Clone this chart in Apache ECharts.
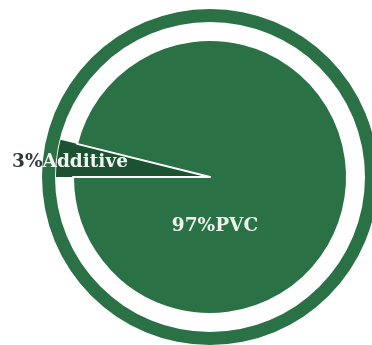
<!DOCTYPE html>
<html>
<head>
<meta charset="utf-8">
<style>html,body{margin:0;padding:0;background:#fff;}#c{width:372px;height:345px;}</style>
<script src="https://cdn.jsdelivr.net/npm/echarts@6/dist/echarts.min.js"></script>
</head>
<body>
<div id="c"></div>
<script>
const categories = ['Additive', 'PVC'];
const values = [3, 97];
const percentLabels = ['3%', '97%'];

const GREEN = '#2a7246';
const DARK = '#1c5232';
const chart = echarts.init(document.getElementById('c'), null, {renderer: 'canvas'});

const mainData = categories.map((n, i) => ({
  name: n, value: values[i],
  itemStyle: { color: i === 1 ? GREEN : 'rgba(0,0,0,0)', borderWidth: i === 1 ? 2 : 0 }
}));
const addData = categories.map((n, i) => ({
  name: n, value: values[i],
  itemStyle: { color: i === 0 ? DARK : 'rgba(0,0,0,0)', borderWidth: 0 }
}));

const labelPos = { Additive: [70, 162], PVC: [215, 226] };

chart.setOption({
  animation: false,
  series: [
    {
      type: 'pie', silent: true, center: [210, 177], radius: [155, 168],
      data: [{ value: 1, itemStyle: { color: GREEN } }],
      label: { show: false }, labelLine: { show: false }
    },
    {
      type: 'pie', silent: true, center: [210, 177], radius: [0, 154],
      startAngle: 180, clockwise: true, minAngle: 14,
      itemStyle: { borderColor: '#ffffff' },
      data: addData,
      label: { show: false }, labelLine: { show: false }
    },
    {
      type: 'pie', silent: true, center: [210, 177], radius: [0, 137],
      startAngle: 180, clockwise: true, minAngle: 14,
      itemStyle: { borderColor: '#ffffff' },
      data: mainData,
      label: {
        show: true, position: 'inside',
        formatter: p => p.dataIndex === 0
          ? '{a|' + percentLabels[0] + '}{b|' + p.name + '}'
          : '{c|' + percentLabels[1] + p.name + '}',
        rich: {
          a: { color: '#2e3a35', fontFamily: 'DejaVu Serif', fontWeight: 'bold', fontSize: 18.5 },
          b: { color: '#f2f6f2', fontFamily: 'DejaVu Serif', fontWeight: 'bold', fontSize: 18.5 },
          c: { color: '#eef4ee', fontFamily: 'DejaVu Serif', fontWeight: 'bold', fontSize: 18.5 }
        }
      },
      labelLine: { show: false },
      labelLayout: p => {
        const pos = labelPos[categories[p.dataIndex]];
        return { x: pos[0], y: pos[1], align: 'center', verticalAlign: 'middle' };
      }
    }
  ]
});
</script>
</body>
</html>
